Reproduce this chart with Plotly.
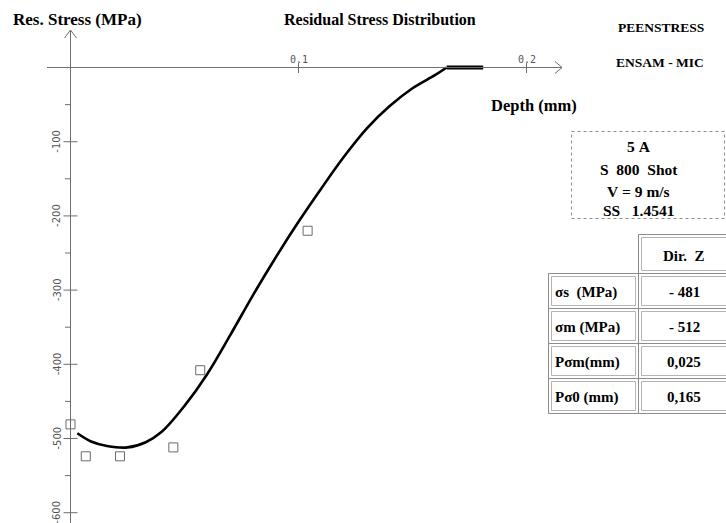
import plotly.graph_objects as go

W, H = 726, 523
NB = "\u00a0"

# Measured residual stress points (depth in mm, stress in MPa)
meas_depth = [0.0, 0.0067, 0.0217, 0.0451, 0.0569, 0.104]
meas_stress = [-481, -524, -524, -512, -408, -220]

# Fitted stress profile
fit_depth = [0.003, 0.009, 0.016, 0.025, 0.033, 0.040, 0.050, 0.060, 0.070,
             0.080, 0.090, 0.100, 0.110, 0.120, 0.130, 0.140, 0.150, 0.160, 0.165]
fit_stress = [-493, -504, -510, -512, -505, -491, -456, -413, -361,
              -307, -256, -208, -163, -120, -82, -52, -28, -10, 0]

# Stress-free tail beyond the affected depth
tail_depth = [0.165, 0.181]
tail_stress = [0, 0]

x_ticks = [0.1, 0.2]
x_tick_labels = ["0.1", "0.2"]
y_ticks = [-100, -200, -300, -400, -500, -600]
y_tick_labels = ["-100", "-200", "-300", "-400", "-500", "-600"]
y_minor = [-50, -150, -250, -350, -450, -550]

info_lines = ["5 A", "S  800  Shot", "V = 9 m/s", "SS   1.4541"]
table_header = "Dir.  Z"
table_rows = ["σs  (MPa)", "σm (MPa)", "Pσm(mm)", "Pσ0 (mm)"]
table_values = ["- 481", "- 512", "0,025", "0,165"]

X_RANGE = [-0.03092, 0.2875]
Y_RANGE = [-613.9, 91.0]

SERIF = "Liberation Serif, Times New Roman, serif"
AXIS_COL = "#6e6e6e"
BORDER_COL = "#8c8c8c"


def px(x):
    return x / W


def py(y):
    return 1 - y / H


fig = go.Figure()

fig.add_trace(go.Scatter(
    x=fit_depth, y=fit_stress, mode="lines",
    line=dict(color="black", width=2.6, shape="spline", smoothing=1.0),
    hoverinfo="skip", showlegend=False))
fig.add_trace(go.Scatter(
    x=tail_depth, y=tail_stress, mode="lines",
    line=dict(color="black", width=4),
    hoverinfo="skip", showlegend=False))
fig.add_trace(go.Scatter(
    x=meas_depth, y=meas_stress, mode="markers",
    marker=dict(symbol="square-open", size=9, color="#6a6a6a",
                line=dict(width=1)),
    cliponaxis=False, showlegend=False))

shapes = []
ann = []

# Depth axis with arrow
shapes.append(dict(type="line", xref="paper", yref="y", x0=px(47), x1=px(562),
                   y0=0, y1=0, line=dict(color=AXIS_COL, width=1)))
shapes.append(dict(type="path", xref="paper", yref="paper",
                   path=f"M {px(555)} {py(61.5)} L {px(562)} {py(67.5)} L {px(555)} {py(73.5)}",
                   line=dict(color=AXIS_COL, width=1)))
# Stress axis with arrow
shapes.append(dict(type="line", xref="x", yref="paper", x0=0, x1=0,
                   y0=py(523), y1=py(30), line=dict(color=AXIS_COL, width=1)))
shapes.append(dict(type="path", xref="paper", yref="paper",
                   path=f"M {px(64.5)} {py(38)} L {px(70.5)} {py(30)} L {px(76.5)} {py(38)}",
                   line=dict(color=AXIS_COL, width=1)))

for xv, lab in zip(x_ticks, x_tick_labels):
    shapes.append(dict(type="line", xref="x", yref="paper", x0=xv, x1=xv,
                       y0=py(73), y1=py(63), line=dict(color=AXIS_COL, width=1)))
    ann.append(dict(x=xv, y=py(59), xref="x", yref="paper", text=lab,
                    showarrow=False, xanchor="center", yanchor="middle",
                    font=dict(family="DejaVu Sans Mono", size=10, color="#555")))

for yv, lab in zip(y_ticks, y_tick_labels):
    shapes.append(dict(type="line", xref="paper", yref="y", x0=px(63.5), x1=px(77.5),
                       y0=yv, y1=yv, line=dict(color=AXIS_COL, width=1)))
    ann.append(dict(x=px(57), y=yv, xref="paper", yref="y", text=lab,
                    showarrow=False, textangle=-90, xanchor="center", yanchor="middle",
                    font=dict(family="DejaVu Sans", size=10, color="#555")))

for yv in y_minor:
    shapes.append(dict(type="line", xref="paper", yref="y", x0=px(65), x1=px(70.5),
                       y0=yv, y1=yv, line=dict(color=AXIS_COL, width=1)))


def label(x, y, text, size, anchor="center"):
    ann.append(dict(x=px(x), y=py(y), xref="paper", yref="paper",
                    text="<b>" + text.replace(" ", NB) + "</b>", showarrow=False,
                    xanchor=anchor, yanchor="middle",
                    font=dict(family=SERIF, size=size, color="black")))


label(77, 19, "Res. Stress (MPa)", 17)
label(380, 19, "Residual Stress Distribution", 16)
label(661, 28, "PEENSTRESS", 13.5)
label(660, 62, "ENSAM - MIC", 13.5)
label(534, 106, "Depth (mm)", 16.5)

# Specimen information box
shapes.append(dict(type="rect", xref="paper", yref="paper",
                   x0=px(571.5), x1=px(724.5), y0=py(218.5), y1=py(131.5),
                   line=dict(color=BORDER_COL, width=1, dash="dot")))
for yy, line in zip([147, 169.5, 191, 211], info_lines):
    label(638.5, yy, line, 15.5)


# Results table with double (raised) cell borders
def cell(x0, y0, x1, y1):
    shapes.append(dict(type="rect", xref="paper", yref="paper",
                       x0=px(x0), x1=px(x1), y0=py(y1), y1=py(y0),
                       line=dict(color=BORDER_COL, width=1)))
    shapes.append(dict(type="rect", xref="paper", yref="paper",
                       x0=px(x0 + 3), x1=px(x1 - 3), y0=py(y1 - 3), y1=py(y0 + 3),
                       line=dict(color="#b4b4b4", width=1)))


cell(638.5, 234.5, 730, 273.5)
label(684, 256, table_header, 15)
row_top = 273.5
row_h = 35
for i, (name, val) in enumerate(zip(table_rows, table_values)):
    y0 = row_top + i * row_h
    cell(548.5, y0, 638.5, y0 + row_h)
    cell(638.5, y0, 730, y0 + row_h)
    label(553, y0 + row_h / 2 + 1, name, 15, anchor="left")
    label(684, y0 + row_h / 2 + 1, val, 15)

fig.update_layout(
    width=W, height=H, autosize=False,
    margin=dict(l=0, r=0, t=0, b=0),
    paper_bgcolor="white", plot_bgcolor="white",
    xaxis=dict(range=X_RANGE, visible=False, fixedrange=True),
    yaxis=dict(range=Y_RANGE, visible=False, fixedrange=True),
    shapes=shapes, annotations=ann, showlegend=False,
)

fig.write_html("out.html")
